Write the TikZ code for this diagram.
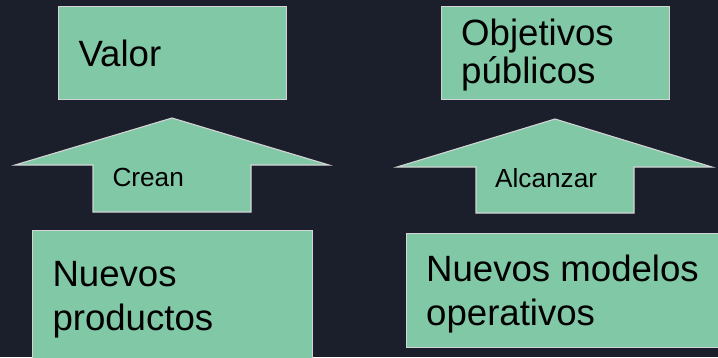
\documentclass[tikz,border=0pt]{standalone}
\usepackage{fontspec}
\setmainfont{Liberation Sans}
\definecolor{bgc}{HTML}{1B1F2B}
\definecolor{boxfill}{HTML}{81C8A6}
\definecolor{boxline}{HTML}{D4D4D4}
\begin{document}
\begin{tikzpicture}[x=1pt,y=-1pt,
  box/.style={draw=boxline,fill=boxfill,line width=1.1pt,rectangle,inner sep=0pt,anchor=north west},
  blockarrow/.style={draw=boxline,fill=boxfill,line width=1.1pt,line join=miter},
  big/.style={inner sep=0pt,anchor=base west,font=\fontsize{36.6}{43}\selectfont,text=black},
  small/.style={inner sep=0pt,anchor=base west,font=\fontsize{26.2}{30}\selectfont,text=black}]
\useasboundingbox (0,0) rectangle (718,357);
\fill[bgc] (0,0) rectangle (718,357);
\clip (0,0) rectangle (718,357);
% top boxes
\node[box,minimum width=228pt,minimum height=93.3pt] (valor) at (58.3,6) {};
\node[big] (valorT) at (78.3,66.7) {Valor};
\node[box,minimum width=228pt,minimum height=93.3pt] (obj) at (441,6) {};
\node[big] (objT1) at (461,45) {Objetivos};
\node[big] (objT2) at (461,83) {públicos};
% block arrows
\draw[blockarrow] (172,118) -- (15,165) -- (93,165) -- (93,212) -- (251,212) -- (251,165) -- (329,165) -- cycle;
\node[small] (crean) at (112.3,186.7) {Crean};
\draw[blockarrow] (555,119) -- (397,167) -- (476,167) -- (476,213) -- (634,213) -- (634,167) -- (712,167) -- cycle;
\node[small] (alc) at (495,187.3) {Alcanzar};
% bottom boxes
\node[box,minimum width=280pt,minimum height=140pt] (prod) at (32.3,230) {};
\node[big] (prodT1) at (52.3,286.7) {Nuevos};
\node[big] (prodT2) at (52.3,330) {productos};
\node[box,minimum width=320pt,minimum height=113.4pt] (mod) at (405.7,233.3) {};
\node[big] (modT1) at (426,281) {Nuevos modelos};
\node[big] (modT2) at (426,325) {operativos};
\end{tikzpicture}
\end{document}
